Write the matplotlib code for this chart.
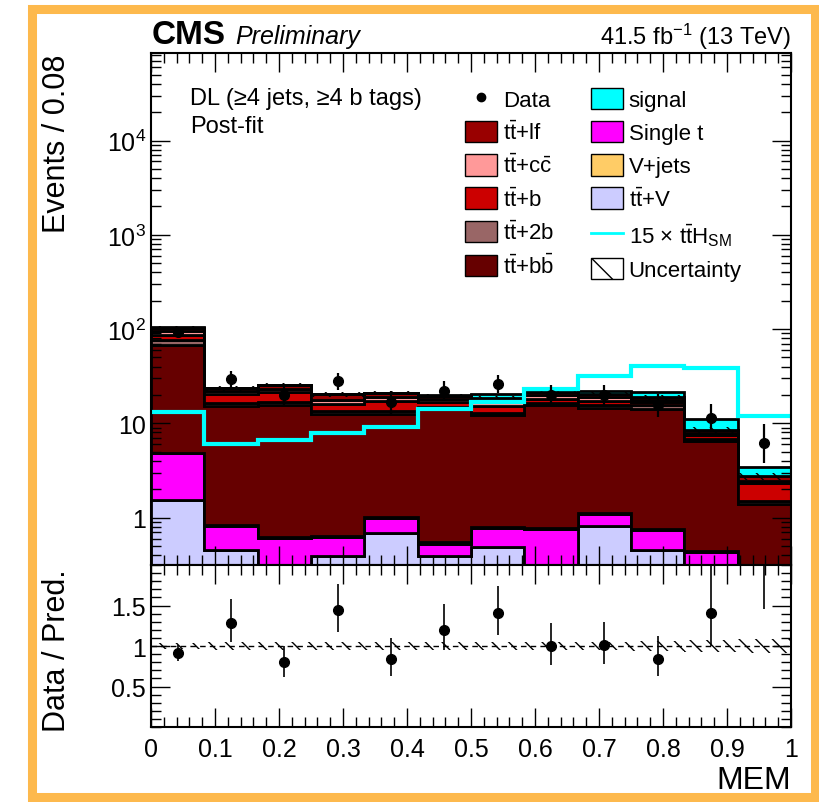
import numpy as np
import matplotlib.pyplot as plt
from matplotlib.patches import Patch, Rectangle
from matplotlib.lines import Line2D
from matplotlib.ticker import MultipleLocator, LogLocator, FuncFormatter, NullFormatter, FixedLocator

plt.rcParams['font.family'] = ['Liberation Sans', 'DejaVu Sans']
plt.rcParams['mathtext.fontset'] = 'custom'
plt.rcParams['mathtext.rm'] = 'Liberation Sans'
plt.rcParams['mathtext.it'] = 'Liberation Sans:italic'
plt.rcParams['mathtext.bf'] = 'Liberation Sans:bold'
plt.rcParams['hatch.linewidth'] = 1.0

# MEM discriminant, 12 bins between 0 and 1
edges = np.linspace(0, 1, 13)
centers = 0.5 * (edges[:-1] + edges[1:])

# post-fit yields per bin (stack order, bottom to top)
ttv = [1.55, 0.45, 0.30, 0.39, 0.69, 0.39, 0.49, 0.25, 0.82, 0.45, 0.25, 0.10]
single_t = [3.25, 0.37, 0.30, 0.23, 0.31, 0.14, 0.28, 0.50, 0.28, 0.28, 0.18, 0.10]
vjets = [0.05, 0.02, 0.02, 0.02, 0.02, 0.02, 0.02, 0.02, 0.02, 0.02, 0.01, 0.01]
ttbb = [63.2, 14.4, 14.9, 11.9, 11.5, 13.6, 11.4, 14.7, 13.6, 13.4, 6.06, 1.20]
tt2b = [8.0, 1.4, 1.5, 1.0, 1.0, 0.7, 0.8, 1.1, 0.9, 1.4, 0.25, 0.08]
ttb = [11.0, 3.8, 4.7, 2.7, 3.8, 1.8, 2.4, 1.7, 1.7, 1.1, 0.70, 0.81]
ttcc = [8.0, 1.6, 1.3, 1.6, 1.7, 1.4, 1.6, 1.7, 1.5, 0.9, 0.45, 0.13]
ttlf = [8.0, 1.4, 2.3, 2.4, 2.0, 1.5, 1.5, 1.5, 1.7, 1.3, 0.60, 0.32]
signal = [1.0, 0.2, 0.3, 0.2, 0.1, 0.3, 1.9, 1.9, 1.5, 2.7, 2.5, 0.71]

# 15 x ttH expectation
tth15 = [13.3, 6.1, 6.6, 7.96, 9.1, 14.3, 16.8, 23.4, 31.8, 40.7, 39.0, 12.0]

# relative background uncertainty
unc_rel = [0.04, 0.05, 0.05, 0.05, 0.05, 0.05, 0.05, 0.05, 0.05, 0.06, 0.07, 0.09]

# observed data
data = [93, 29.4, 19.9, 28, 16.8, 22.0, 26, 19.9, 19.9, 15.5, 11.4, 6.2]
data_lo = [9.6, 5.4, 4.4, 5.3, 4.1, 4.7, 5.1, 4.4, 4.4, 3.9, 3.3, 2.4]
data_hi = [10.7, 6.5, 5.5, 6.3, 5.2, 5.8, 6.2, 5.5, 5.5, 5.0, 4.5, 3.55]

# data / background prediction
ratio = [0.918, 1.285, 0.80, 1.45, 0.84, 1.20, 1.41, 1.00, 1.01, 0.845, 1.41, 2.40]
ratio_lo = [0.10, 0.235, 0.18, 0.28, 0.21, 0.25, 0.28, 0.23, 0.23, 0.215, 0.41, 0.94]
ratio_hi = [0.10, 0.30, 0.20, 0.32, 0.26, 0.32, 0.33, 0.285, 0.29, 0.275, 0.60, 1.10]

tt = r'$\mathrm{t\bar{t}}$'
stack = [
    (tt + '+V', ttv, '#ccccff'),
    ('Single t', single_t, '#ff00ff'),
    ('V+jets', vjets, '#ffcc66'),
    (tt + r'+$\mathrm{b\bar{b}}$', ttbb, '#660000'),
    (tt + '+2b', tt2b, '#996666'),
    (tt + '+b', ttb, '#cc0000'),
    (tt + r'+$\mathrm{c\bar{c}}$', ttcc, '#ff9999'),
    (tt + '+lf', ttlf, '#990000'),
    ('signal', signal, '#00ffff'),
]
colors = {name: col for name, _, col in stack}

fig = plt.figure(figsize=(8.19, 8.03), dpi=100)
ax = fig.add_axes([0.1844, 0.2951, 0.7814, 0.6377])
rax = fig.add_axes([0.1844, 0.0934, 0.7814, 0.2017], sharex=ax)

# stacked histograms
bottom = np.full(len(centers), 1e-3)
for name, vals, col in stack:
    top = bottom + np.array(vals)
    ax.stairs(top, edges, baseline=bottom, fill=True, facecolor=col,
              edgecolor='black', linewidth=2)
    bottom = top

bkg = bottom - np.array(signal)
unc = bkg * np.array(unc_rel)
ax.stairs(bkg + unc, edges, baseline=bkg - unc, fill=True, facecolor='none',
          edgecolor='black', linewidth=0, hatch='\\\\')

ax.stairs(tth15, edges, baseline=None, color='#00ffff', linewidth=3)

ax.errorbar(centers, data, yerr=[data_lo, data_hi], fmt='o', color='black',
            markersize=7, elinewidth=1.6, capsize=0, zorder=5)

ax.set_yscale('log')
ax.set_xlim(0, 1)
ax.set_ylim(0.314, 8.5e4)

# ratio panel
rax.stairs(1 + np.array(unc_rel), edges, baseline=1 - np.array(unc_rel), fill=True,
           facecolor='none', edgecolor='black', linewidth=0, hatch='\\\\')
rax.axhline(1, color='black', linestyle='--', linewidth=1, dashes=(4, 3))
rax.errorbar(centers, ratio, yerr=[ratio_lo, ratio_hi], fmt='o', color='black',
             markersize=7, elinewidth=1.2, capsize=0, zorder=5)
rax.set_ylim(0, 2)


def log_label(v, _):
    if v == 1:
        return '1'
    if v == 10:
        return '10'
    return r'$10^{%d}$' % round(np.log10(v))


for a in (ax, rax):
    a.tick_params(which='both', direction='in', top=True, right=True, width=1,
                  labelsize=18)
    a.tick_params(which='major', length=14)
    a.tick_params(which='minor', length=7)
    a.xaxis.set_major_locator(MultipleLocator(0.1))
    a.xaxis.set_minor_locator(MultipleLocator(0.02))
    for s in a.spines.values():
        s.set_linewidth(1.5)

ax.yaxis.set_major_locator(LogLocator(base=10, numticks=10))
ax.yaxis.set_minor_locator(LogLocator(base=10, subs=np.arange(2, 10), numticks=20))
ax.yaxis.set_major_formatter(FuncFormatter(log_label))
ax.yaxis.set_minor_formatter(NullFormatter())
ax.tick_params(labelbottom=False)

rax.yaxis.set_major_locator(FixedLocator([0.5, 1.0, 1.5]))
rax.yaxis.set_minor_locator(MultipleLocator(0.1))
rax.yaxis.set_major_formatter(FuncFormatter(lambda v, _: f'{v:g}'))
rax.xaxis.set_major_formatter(FuncFormatter(lambda v, _: f'{v:g}'))
rax.tick_params(axis='x', pad=7)

fig.text(57 / 819, 1 - 55 / 803, 'Events / 0.08', rotation=90, ha='center',
         va='top', fontsize=22)
fig.text(57 / 819, 1 - 569 / 803, 'Data / Pred.', rotation=90, ha='center',
         va='top', fontsize=22)
fig.text(791 / 819, 1 - 781 / 803, 'MEM', ha='right', va='center', fontsize=23)

fig.text(152 / 819, 1 - 36 / 803, 'CMS', ha='left', va='center', fontsize=24,
         fontweight='bold')
fig.text(235 / 819, 1 - 37 / 803, 'Preliminary', ha='left', va='center',
         fontsize=18, fontstyle='italic')
fig.text(791 / 819, 1 - 37 / 803, r'41.5 fb$^{-1}$ (13 TeV)', ha='right',
         va='center', fontsize=17)

ax.text(0.061, 0.912, 'DL (≥4 jets, ≥4 b tags)', transform=ax.transAxes,
        ha='left', va='center', fontsize=17)
ax.text(0.061, 0.857, 'Post-fit', transform=ax.transAxes, ha='left',
        va='center', fontsize=17)

# legend, two columns
def swatch(name):
    return Patch(facecolor=colors[name], edgecolor='black', linewidth=1)


names1 = [tt + '+lf', tt + r'+$\mathrm{c\bar{c}}$', tt + '+b', tt + '+2b',
          tt + r'+$\mathrm{b\bar{b}}$']
names2 = ['signal', 'Single t', 'V+jets', tt + '+V']
handles = [Line2D([], [], marker='o', color='black', linestyle='none', markersize=6)]
labels = ['Data']
handles += [swatch(n) for n in names1]
labels += names1
handles += [swatch(n) for n in names2]
labels += names2
handles.append(Line2D([], [], color='#00ffff', linewidth=2))
labels.append(r'15 × $\mathrm{t\bar{t}H_{SM}}$')
handles.append(Patch(facecolor='white', edgecolor='black', linewidth=1, hatch='\\'))
labels.append('Uncertainty')

ax.legend(handles, labels, ncol=2, loc='upper left', bbox_to_anchor=(0.491, 0.932),
          frameon=False, fontsize=16, handlelength=1.45, handleheight=1.1,
          labelspacing=0.45, columnspacing=1.65, handletextpad=0.25,
          borderaxespad=0, borderpad=0)

# orange slide frame
fig.add_artist(Rectangle((32 / 819, 1 - 798 / 803), (815 - 32) / 819, (798 - 10) / 803,
                         transform=fig.transFigure, facecolor='none',
                         edgecolor='#fdb94d', linewidth=6.5))

fig.savefig('out.png', dpi=100)
